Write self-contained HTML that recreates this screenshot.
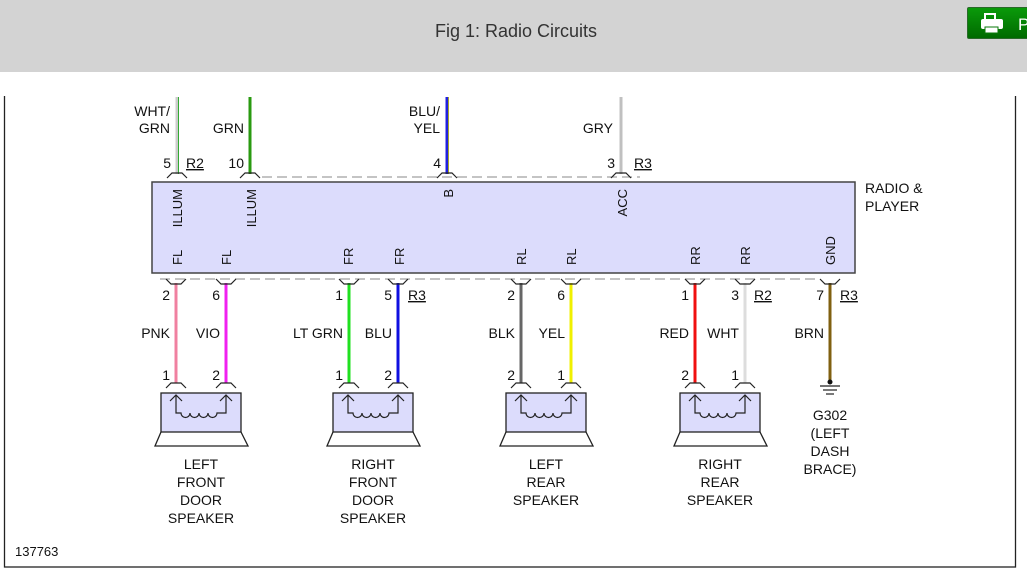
<!DOCTYPE html>
<html><head><meta charset="utf-8">
<style>
html,body{margin:0;padding:0;width:1027px;height:584px;overflow:hidden;background:#fff;font-family:"Liberation Sans",sans-serif;}
#hdr{position:absolute;left:0;top:0;width:1027px;height:72px;background:#d3d3d3;}
#title{position:absolute;left:0;width:1032px;top:21px;text-align:center;font-size:18px;color:#333;font-family:"Liberation Sans Narrow","Liberation Sans",sans-serif;}
#btn{position:absolute;left:967px;top:7px;width:70px;height:30px;background:linear-gradient(#0a9a0a,#006a00);border:1px solid #2a6a2a;border-radius:2px;}
svg{position:absolute;left:0;top:0;}
</style></head><body>
<div id="hdr"><div id="title">Fig 1: Radio Circuits</div>
<div id="btn"><svg width="70" height="30" style="position:absolute;left:0;top:0">
<rect x="17" y="6" width="10" height="6" fill="none" stroke="#fff" stroke-width="2"/>
<rect x="13" y="11" width="22" height="10" rx="2" fill="#fff"/>
<rect x="17" y="19" width="13" height="6" fill="#fff" stroke="#0a7a0a" stroke-width="1"/>
<text x="50" y="22" font-size="17" fill="#fff" font-family="Liberation Sans">P</text></svg></div>
</div>
<svg width="1027" height="584" viewBox="0 0 1027 584" font-family="Liberation Sans" font-size="14" fill="#111">
<rect x="4.5" y="90" width="1011" height="477" fill="none" stroke="#222" stroke-width="1.3"/>
<rect x="0" y="72" width="1027" height="24" fill="#fff"/>
<!-- top wires -->
<line x1="177" y1="97" x2="177" y2="174" stroke="#ccc" stroke-width="3"/>
<line x1="178.5" y1="97" x2="178.5" y2="174" stroke="#3a3" stroke-width="1"/>
<line x1="250" y1="97" x2="250" y2="174" stroke="#2a9a10" stroke-width="3"/>
<line x1="447" y1="97" x2="447" y2="174" stroke="#2020e0" stroke-width="3"/>
<line x1="448.5" y1="97" x2="448.5" y2="174" stroke="#aa0" stroke-width="0.8"/>
<line x1="621" y1="97" x2="621" y2="174" stroke="#c0c0c0" stroke-width="3"/>
<line x1="262" y1="177" x2="640" y2="177" stroke="#888" stroke-dasharray="10,5"/>
<g fill="none" stroke="#222" stroke-width="1.2">
<path d="M167 178 L172 173 L182 173 L187 178"/>
<path d="M240 178 L245 173 L255 173 L260 178"/>
<path d="M437 178 L442 173 L452 173 L457 178"/>
<path d="M611 178 L616 173 L626 173 L631 178"/>
</g>
<text x="170" y="116" text-anchor="end">WHT/</text><text x="170" y="133" text-anchor="end">GRN</text>
<text x="244" y="133" text-anchor="end">GRN</text>
<text x="440" y="116" text-anchor="end">BLU/</text><text x="440" y="133" text-anchor="end">YEL</text>
<text x="613" y="133" text-anchor="end">GRY</text>
<text x="171" y="168" text-anchor="end">5</text><text x="186" y="168" text-decoration="underline">R2</text>
<text x="244" y="168" text-anchor="end">10</text>
<text x="441" y="168" text-anchor="end">4</text>
<text x="615" y="168" text-anchor="end">3</text><text x="634" y="168" text-decoration="underline">R3</text>
<!-- radio box -->
<rect x="152" y="182" width="703" height="91" fill="#dcdcfc" stroke="#444" stroke-width="1.5"/>
<text x="865" y="193">RADIO &amp;</text><text x="865" y="211">PLAYER</text>
<g font-size="13">
<text transform="translate(182,189) rotate(-90)" text-anchor="end">ILLUM</text>
<text transform="translate(256,189) rotate(-90)" text-anchor="end">ILLUM</text>
<text transform="translate(453,189) rotate(-90)" text-anchor="end">B</text>
<text transform="translate(627,189) rotate(-90)" text-anchor="end">ACC</text>
<text transform="translate(182,265) rotate(-90)">FL</text>
<text transform="translate(231,265) rotate(-90)">FL</text>
<text transform="translate(353,265) rotate(-90)">FR</text>
<text transform="translate(404,265) rotate(-90)">FR</text>
<text transform="translate(526,265) rotate(-90)">RL</text>
<text transform="translate(576,265) rotate(-90)">RL</text>
<text transform="translate(700,265) rotate(-90)">RR</text>
<text transform="translate(750,265) rotate(-90)">RR</text>
<text transform="translate(835,265) rotate(-90)">GND</text>
</g>
<line x1="160" y1="279" x2="820" y2="279" stroke="#888" stroke-dasharray="10,5"/>
<!-- bottom wires -->
<g stroke-width="3">
<line x1="176" y1="283" x2="176" y2="383" stroke="#f080a0"/>
<line x1="226" y1="283" x2="226" y2="383" stroke="#f020f0"/>
<line x1="349" y1="283" x2="349" y2="383" stroke="#20e020"/>
<line x1="398" y1="283" x2="398" y2="383" stroke="#1010e0"/>
<line x1="521" y1="283" x2="521" y2="383" stroke="#666"/>
<line x1="571" y1="283" x2="571" y2="383" stroke="#f0f000"/>
<line x1="695" y1="283" x2="695" y2="383" stroke="#f01010"/>
<line x1="745" y1="283" x2="745" y2="383" stroke="#ddd"/>
<line x1="830" y1="283" x2="830" y2="380" stroke="#806010"/>
</g>
<g fill="none" stroke="#222" stroke-width="1.2">
<path d="M166 279 L171 284 L181 284 L186 279"/><path d="M216 279 L221 284 L231 284 L236 279"/>
<path d="M339 279 L344 284 L354 284 L359 279"/><path d="M388 279 L393 284 L403 284 L408 279"/>
<path d="M511 279 L516 284 L526 284 L531 279"/><path d="M561 279 L566 284 L576 284 L581 279"/>
<path d="M685 279 L690 284 L700 284 L705 279"/><path d="M735 279 L740 284 L750 284 L755 279"/>
<path d="M820 279 L825 284 L835 284 L840 279"/>
<path d="M166 388 L171 383 L181 383 L186 388"/><path d="M216 388 L221 383 L231 383 L236 388"/>
<path d="M339 388 L344 383 L354 383 L359 388"/><path d="M388 388 L393 383 L403 383 L408 388"/>
<path d="M511 388 L516 383 L526 383 L531 388"/><path d="M561 388 L566 383 L576 383 L581 388"/>
<path d="M685 388 L690 383 L700 383 L705 388"/><path d="M735 388 L740 383 L750 383 L755 388"/>
</g>
<!-- labels -->
<text x="170" y="300" text-anchor="end">2</text><text x="220" y="300" text-anchor="end">6</text>
<text x="343" y="300" text-anchor="end">1</text><text x="392" y="300" text-anchor="end">5</text><text x="408" y="300" text-decoration="underline">R3</text>
<text x="515" y="300" text-anchor="end">2</text><text x="565" y="300" text-anchor="end">6</text>
<text x="689" y="300" text-anchor="end">1</text><text x="739" y="300" text-anchor="end">3</text><text x="754" y="300" text-decoration="underline">R2</text>
<text x="824" y="300" text-anchor="end">7</text><text x="840" y="300" text-decoration="underline">R3</text>
<text x="170" y="338" text-anchor="end">PNK</text><text x="220" y="338" text-anchor="end">VIO</text>
<text x="343" y="338" text-anchor="end">LT GRN</text><text x="392" y="338" text-anchor="end">BLU</text>
<text x="515" y="338" text-anchor="end">BLK</text><text x="565" y="338" text-anchor="end">YEL</text>
<text x="689" y="338" text-anchor="end">RED</text><text x="739" y="338" text-anchor="end">WHT</text>
<text x="824" y="338" text-anchor="end">BRN</text>
<text x="170" y="380" text-anchor="end">1</text><text x="220" y="380" text-anchor="end">2</text>
<text x="343" y="380" text-anchor="end">1</text><text x="392" y="380" text-anchor="end">2</text>
<text x="515" y="380" text-anchor="end">2</text><text x="565" y="380" text-anchor="end">1</text>
<text x="689" y="380" text-anchor="end">2</text><text x="739" y="380" text-anchor="end">1</text>
<!-- ground -->
<circle cx="830" cy="382" r="2.5" fill="#111"/>
<g stroke="#222" stroke-width="1.2"><line x1="820" y1="386" x2="840" y2="386"/><line x1="823" y1="390" x2="837" y2="390"/><line x1="826" y1="394" x2="834" y2="394"/></g>
<g text-anchor="middle"><text x="830" y="420">G302</text><text x="830" y="438">(LEFT</text><text x="830" y="456">DASH</text><text x="830" y="474">BRACE)</text></g>
<!-- speakers -->
<g id="spk">
<rect x="161" y="393" width="80" height="39" fill="#dcdcfc" stroke="#222" stroke-width="1.3"/>
<path d="M161 432 L155 446 L248 446 L241 432" fill="none" stroke="#222" stroke-width="1.3"/>
<path d="M176 395 L176 413 L181 413 A4.5 4.5 0 0 0 190 413 A4.5 4.5 0 0 0 199 413 A4.5 4.5 0 0 0 208 413 A4.5 4.5 0 0 0 217 413 L221 413 L226 413 L226 395 M170 401 L176 395 L182 401 M220 401 L226 395 L232 401" fill="none" stroke="#222" stroke-width="1.2"/>
</g>
<use href="#spk" x="172"/><use href="#spk" x="345"/><use href="#spk" x="519"/>
<g text-anchor="middle">
<text x="201" y="469">LEFT</text><text x="201" y="487">FRONT</text><text x="201" y="505">DOOR</text><text x="201" y="523">SPEAKER</text>
<text x="373" y="469">RIGHT</text><text x="373" y="487">FRONT</text><text x="373" y="505">DOOR</text><text x="373" y="523">SPEAKER</text>
<text x="546" y="469">LEFT</text><text x="546" y="487">REAR</text><text x="546" y="505">SPEAKER</text>
<text x="720" y="469">RIGHT</text><text x="720" y="487">REAR</text><text x="720" y="505">SPEAKER</text>
</g>
<text x="15" y="556" font-size="13">137763</text>
</svg>
</body></html>
